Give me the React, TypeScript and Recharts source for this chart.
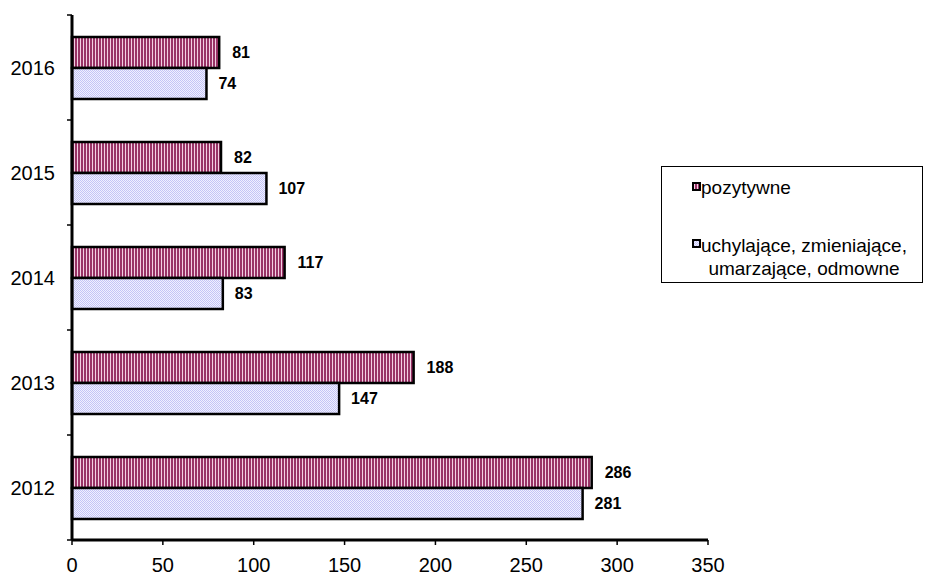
import React from 'react';
import { BarChart, Bar, XAxis, YAxis, LabelList } from 'recharts';

const years = ['2016', '2015', '2014', '2013', '2012'];
const pozytywne = [81, 82, 117, 188, 286];
const uchylajace = [74, 107, 83, 147, 281];
const xTicks = [0, 50, 100, 150, 200, 250, 300, 350];

const seriesNames = {
  pozytywne: 'pozytywne',
  uchylajace: 'uchylające, zmieniające, umarzające, odmowne',
};

const data = years.map((rok, i) => ({
  rok,
  pozytywne: pozytywne[i],
  uchylajace: uchylajace[i],
}));

const FONT = '"Liberation Sans", Arial, sans-serif';
const Y_TICK_SIZE = 6;
const Y_TICK_MARGIN = 11;

// wzory wypełnienia słupków (jak w Excelu)
const Patterns = () => (
  <svg width={0} height={0} style={{ position: 'absolute' }}>
    <defs>
      <pattern id="stripes" width={3} height={3} patternUnits="userSpaceOnUse">
        <rect x={0} y={0} width={3} height={3} fill="#f2cfe2" />
        <rect x={0} y={0} width={2} height={3} fill="#993366" />
      </pattern>
      <pattern id="dots" width={2} height={2} patternUnits="userSpaceOnUse">
        <rect x={0} y={0} width={2} height={2} fill="#f0f0ff" />
        <rect x={0} y={0} width={1} height={1} fill="#c4c4f6" />
        <rect x={1} y={1} width={1} height={1} fill="#c4c4f6" />
      </pattern>
    </defs>
  </svg>
);

// etykieta roku + kreski podziału na granicach kategorii
const YearTick = (props: any) => {
  const { x, y, payload, index, visibleTicksCount } = props;
  const axisX = x + Y_TICK_SIZE + Y_TICK_MARGIN;
  const half = payload.offset || 0;
  const last = index === (visibleTicksCount ?? years.length) - 1;
  return (
    <g>
      <line x1={axisX - 5} x2={axisX} y1={y - half} y2={y - half} stroke="#000" strokeWidth={1.5} />
      {last && (
        <line x1={axisX - 5} x2={axisX} y1={y + half} y2={y + half} stroke="#000" strokeWidth={1.5} />
      )}
      <text x={x} y={y} dy="0.355em" textAnchor="end" fill="#000" fontSize={20} fontFamily={FONT}>
        {payload.value}
      </text>
    </g>
  );
};

const Marker = ({ fill }: { fill: string }) => (
  <svg width={9} height={9} style={{ flex: 'none', marginTop: 5 }}>
    <rect x={1} y={1} width={7} height={7} fill={fill} stroke="#000" strokeWidth={2} />
  </svg>
);

const LegendBox = () => (
  <div
    style={{
      position: 'absolute',
      left: 661,
      top: 166,
      border: '1px solid #000',
      width: 262,
      height: 117,
      boxSizing: 'border-box',
      fontFamily: FONT,
      fontSize: 19,
      color: '#000',
      paddingLeft: 30,
      paddingTop: 10,
    }}
  >
    <div style={{ display: 'flex', alignItems: 'flex-start' }}>
      <Marker fill="url(#stripes)" />
      <span style={{ lineHeight: '22px' }}>{seriesNames.pozytywne}</span>
    </div>
    <div style={{ display: 'flex', alignItems: 'flex-start', marginTop: 35 }}>
      <Marker fill="url(#dots)" />
      <span style={{ lineHeight: '23px', textAlign: 'center' }}>
        uchylające, zmieniające,
        <br />
        umarzające, odmowne
      </span>
    </div>
  </div>
);

export default function App() {
  return (
    <div style={{ position: 'absolute', left: 0, top: 0, width: 933, height: 575, background: '#fff' }}>
      <Patterns />
      <BarChart
        width={933}
        height={575}
        data={data}
        layout="vertical"
        margin={{ top: 15, right: 225, bottom: 0, left: 0 }}
        barSize={31}
        barGap={0}
      >
        <YAxis
          type="category"
          dataKey="rok"
          width={72}
          axisLine={{ stroke: '#000', strokeWidth: 3 }}
          tickLine={false}
          tickSize={Y_TICK_SIZE}
          tickMargin={Y_TICK_MARGIN}
          interval={0}
          tick={<YearTick />}
        />
        <XAxis
          type="number"
          domain={[0, 350]}
          ticks={xTicks}
          height={35}
          axisLine={{ stroke: '#000', strokeWidth: 3 }}
          tickLine={{ stroke: '#000', strokeWidth: 1.5 }}
          tickSize={5}
          tickMargin={13}
          tick={{ fill: '#000', fontSize: 20, fontFamily: FONT }}
        />
        <Bar
          dataKey="pozytywne"
          name={seriesNames.pozytywne}
          fill="url(#stripes)"
          stroke="#000"
          strokeWidth={2.5}
          isAnimationActive={false}
        >
          <LabelList
            dataKey="pozytywne"
            position="right"
            offset={13}
            style={{ fill: '#000', fontSize: 16, fontWeight: 'bold', fontFamily: FONT }}
          />
        </Bar>
        <Bar
          dataKey="uchylajace"
          name={seriesNames.uchylajace}
          fill="url(#dots)"
          stroke="#000"
          strokeWidth={2.5}
          isAnimationActive={false}
        >
          <LabelList
            dataKey="uchylajace"
            position="right"
            offset={12}
            style={{ fill: '#000', fontSize: 16, fontWeight: 'bold', fontFamily: FONT }}
          />
        </Bar>
      </BarChart>
      <LegendBox />
    </div>
  );
}
